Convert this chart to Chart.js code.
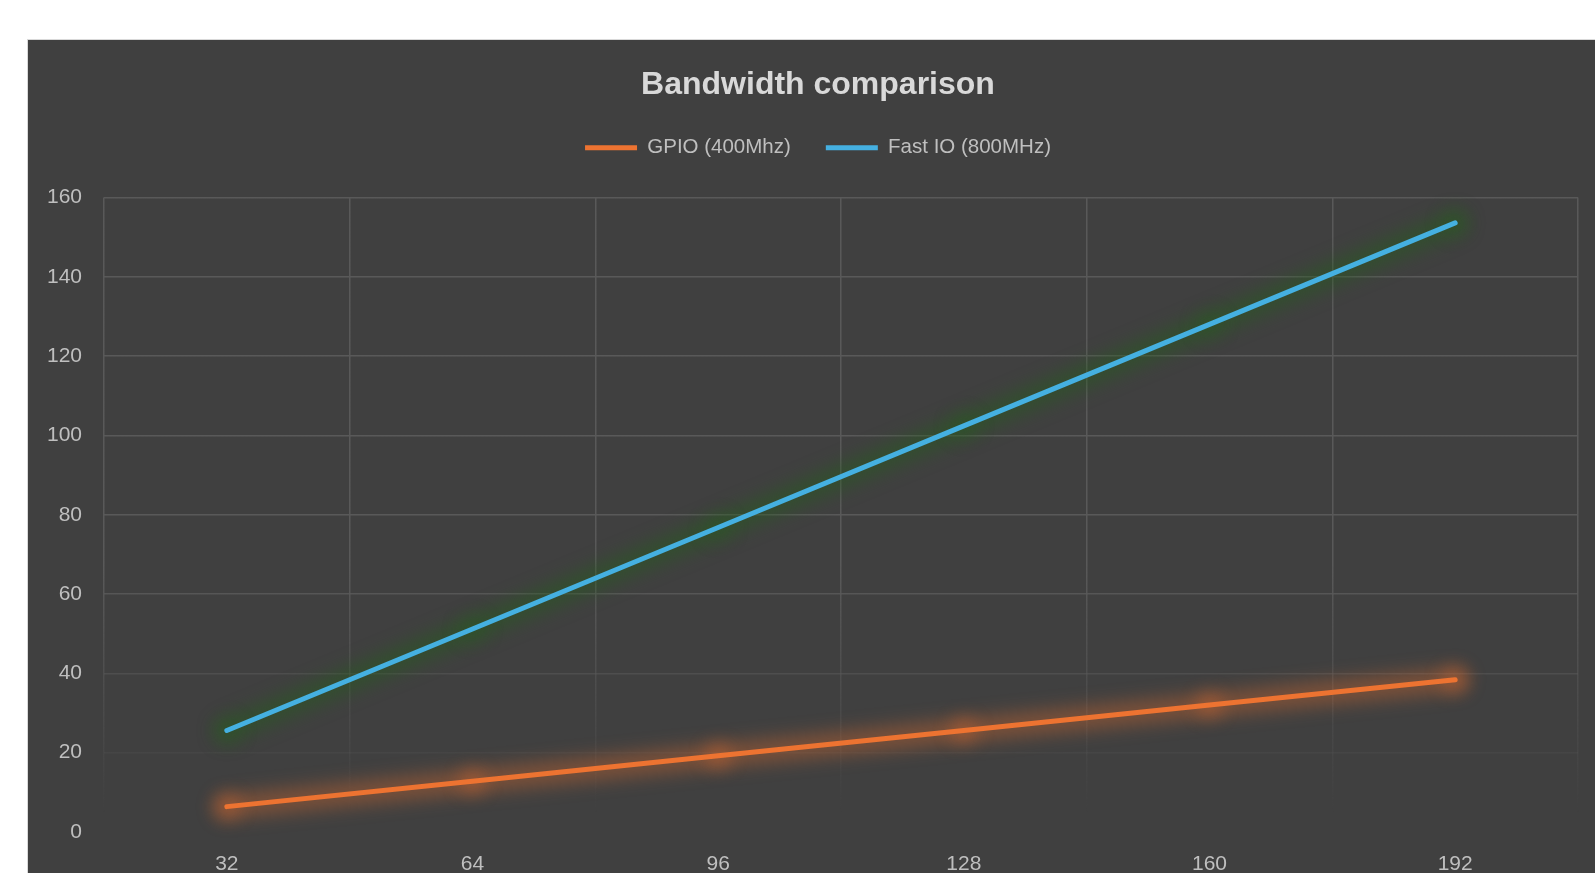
<!DOCTYPE html>
<html>
<head>
<meta charset="utf-8">
<title>Bandwidth comparison</title>
<script src="https://cdn.jsdelivr.net/npm/chart.js@4/dist/chart.umd.min.js"></script>
<style>
  html, body { margin: 0; padding: 0; background: #ffffff; width: 1595px; height: 873px; overflow: hidden; position: relative; }
  #frame { position: absolute; left: 27px; top: 39px; border-left: 1px solid #d9d9d9; border-top: 1px solid #d9d9d9; background: #404040; }
  #frame canvas { display: block; }
</style>
</head>
<body>
<div id="frame"><canvas id="bw" width="1580" height="833"></canvas></div>
<script>
// Bus width in bits (x axis categories)
const busWidths = ['32', '64', '96', '128', '160', '192'];
// Bandwidth per interface
const gpioBandwidth = [6.4, 12.8, 19.2, 25.6, 32, 38.4];
const fastIoBandwidth = [25.6, 51.2, 76.8, 102.4, 128, 153.6];
const seriesNames = ['GPIO (400Mhz)', 'Fast IO (800MHz)'];
// Value axis range and tick step
const yMin = 0;
const yMax = 160;
const yStep = 20;

const lineColors = ['#ED7331', '#45B0E1'];
const glowColors = ['rgba(233, 110, 45, 0.36)', 'rgba(35, 95, 28, 0.48)'];
const glowSpots = ['rgba(233, 110, 45, 0.35)', 'rgba(35, 95, 28, 0.3)'];
const textColor = '#bfbfbf';
const fontFamily = "'Liberation Sans', Arial, sans-serif";

// Soft glow painted underneath each series line
const lineGlow = {
  id: 'lineGlow',
  beforeDatasetDraw(chart, args) {
    const pts = args.meta.data;
    if (!pts.length) return;
    const ctx = chart.ctx;
    ctx.save();
    ctx.filter = 'blur(9px)';
    ctx.lineCap = 'round';
    ctx.lineJoin = 'round';
    ctx.strokeStyle = glowColors[args.index];
    ctx.lineWidth = 24;
    ctx.beginPath();
    pts.forEach((p, i) => (i ? ctx.lineTo(p.x, p.y) : ctx.moveTo(p.x, p.y)));
    ctx.stroke();
    ctx.fillStyle = glowSpots[args.index];
    pts.forEach(p => {
      ctx.beginPath();
      ctx.arc(p.x, p.y, 13, 0, Math.PI * 2);
      ctx.fill();
    });
    ctx.restore();
  }
};

// Grid lines fade out toward the bottom of the plot
let gridFade = null;
function gridColor(context) {
  const chart = context.chart;
  const area = chart.chartArea;
  if (!area) return '#595959';
  const key = area.top + ':' + area.bottom;
  if (!gridFade || gridFade.key !== key) {
    const g = chart.ctx.createLinearGradient(0, area.top, 0, area.bottom);
    g.addColorStop(0, 'rgba(89, 89, 89, 1)');
    g.addColorStop(0.58, 'rgba(89, 89, 89, 1)');
    g.addColorStop(0.97, 'rgba(89, 89, 89, 0)');
    g.addColorStop(1, 'rgba(89, 89, 89, 0)');
    gridFade = { key, g };
  }
  return gridFade.g;
}

const tickFont = { family: fontFamily, size: 21 };

function seriesDataset(i, values) {
  return {
    label: seriesNames[i],
    data: values,
    borderColor: lineColors[i],
    backgroundColor: lineColors[i],
    borderWidth: 5,
    borderCapStyle: 'round',
    borderJoinStyle: 'round',
    pointRadius: 0,
    pointHoverRadius: 0,
    tension: 0,
    pointStyle: 'line'
  };
}

new Chart(document.getElementById('bw'), {
  type: 'line',
  data: {
    labels: busWidths,
    datasets: [seriesDataset(0, gpioBandwidth), seriesDataset(1, fastIoBandwidth)]
  },
  options: {
    responsive: false,
    animation: false,
    events: [],
    layout: { padding: 0 },
    plugins: {
      title: {
        display: true,
        text: 'Bandwidth comparison',
        color: '#d9d9d9',
        font: { family: fontFamily, size: 32, weight: 'bold', lineHeight: 1 },
        padding: { top: 29.5, bottom: 1 }
      },
      legend: {
        display: true,
        position: 'top',
        labels: {
          color: textColor,
          font: { family: fontFamily, size: 20.5 },
          usePointStyle: true,
          pointStyleWidth: 52,
          padding: 35
        }
      },
      // empty band between the legend and the plot
      subtitle: {
        display: true,
        text: '',
        weight: 500,
        font: { size: 1, lineHeight: 1 },
        padding: { top: 28.5, bottom: 0 }
      },
      tooltip: { enabled: false }
    },
    scales: {
      x: {
        type: 'category',
        offset: true,
        grid: { offset: true, color: gridColor, lineWidth: 1.5, drawTicks: false },
        border: { display: false },
        ticks: { color: textColor, font: tickFont, padding: 20, maxRotation: 0, autoSkip: false },
        afterFit(scale) {
          scale.height = 41;
          scale.paddingRight = 30;
        }
      },
      y: {
        min: yMin,
        max: yMax,
        grid: { color: gridColor, lineWidth: 1.5, drawTicks: false },
        border: { display: false },
        ticks: { stepSize: yStep, color: textColor, font: tickFont, padding: 22 },
        afterFit(scale) { scale.width = 76; }
      }
    }
  },
  plugins: [lineGlow]
});
</script>
</body>
</html>
